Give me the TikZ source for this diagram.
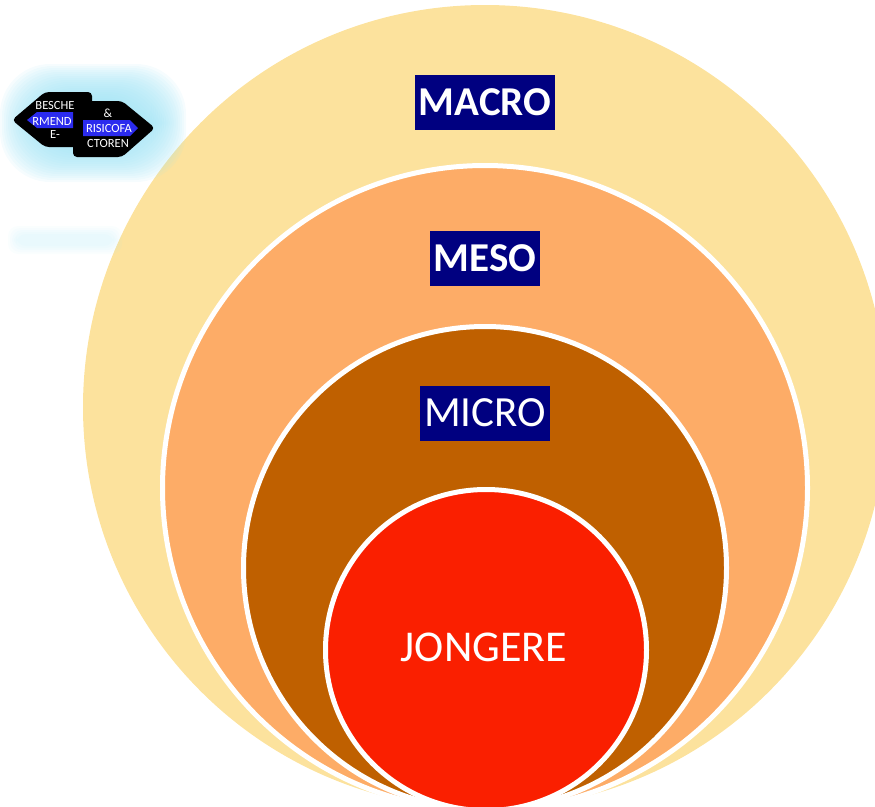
\documentclass[tikz,border=0pt]{standalone}
\usepackage{fontspec}
\setmainfont{Carlito}
\usetikzlibrary{positioning}

\definecolor{macrofill}{HTML}{FCE29D}
\definecolor{mesofill}{HTML}{FDAC67}
\definecolor{microfill}{HTML}{BF6000}
\definecolor{youthfill}{HTML}{FA1F00}
\definecolor{labelnavy}{HTML}{000080}
\definecolor{glowcyan}{HTML}{9FE3F5}
\definecolor{tagblue}{HTML}{2B2BEE}

\tikzset{
  ring/.style={circle, inner sep=0pt, draw=white, line width=5pt},
  levelbox/.style={fill=labelnavy, text=white, inner xsep=4pt, minimum height=55pt},
  tiny/.style={text=white, inner sep=0pt, font=\fontsize{12.5}{12.5}\selectfont}
}

\begin{document}
\begin{tikzpicture}[x=1pt, y=-1pt]
    \useasboundingbox (0,0) rectangle (875,806);
    \clip (0,0) rectangle (875,806);

    % nested circles
    \node[circle, inner sep=0pt, fill=macrofill, minimum size=804] (macro) at (485,407) {};
    \node[ring, fill=mesofill,  minimum size=645] (meso)  at (485,488) {};
    \node[ring, fill=microfill, minimum size=483] (micro) at (485,568) {};
    \node[ring, fill=youthfill, minimum size=321] (youth) at (486,650) {};

    \node[levelbox, font=\bfseries\fontsize{41}{41}\selectfont] (macrolabel) at (485,102) {MACRO};
    \node[levelbox, font=\bfseries\fontsize{41}{41}\selectfont] (mesolabel)  at (485,258) {MESO};
    \node[levelbox, font=\fontsize{43}{43}\selectfont] (microlabel) at (485,413) {MICRO};
    \node[text=white, font=\fontsize{44}{44}\selectfont] (youthlabel) at (484,647) {JONGERE};

    % soft glow behind the arrows
    \foreach \g in {0,...,17}
      \fill[glowcyan, fill opacity=0.09, rounded corners=50pt]
        (0+\g*2,64+\g*2) rectangle (186-\g*2,182-\g*2);
    \foreach \g in {0,...,4}
      \fill[glowcyan, fill opacity=0.05, rounded corners=10pt]
        (8+\g*2,226+\g*2) rectangle (122-\g*2,254-\g*2);

    % arrows
    \fill[black, rounded corners=4pt] (12,120) -- (45,92) -- (92,92) -- (92,147) -- (45,147) -- cycle;
    \fill[black, rounded corners=4pt] (73,101) -- (122,101) -- (155,128) -- (122,157) -- (73,157) -- cycle;
    \fill[tagblue] (27,120) -- (37,112) -- (73,112) -- (73,128) -- (37,128) -- cycle;
    \fill[tagblue] (83,120) -- (130,120) -- (138,128) -- (130,136) -- (83,136) -- cycle;

    \node[tiny] (besche)  at (55,105) {BESCHE};
    \node[tiny] (rmend)   at (52,121) {RMEND};
    \node[tiny] (edash)   at (55,134) {E-};
    \node[tiny] (amp)     at (108,113) {\&};
    \node[tiny] (risico)  at (109,128) {RISICOFA};
    \node[tiny] (ctoren)  at (108,143) {CTOREN};
\end{tikzpicture}
\end{document}
